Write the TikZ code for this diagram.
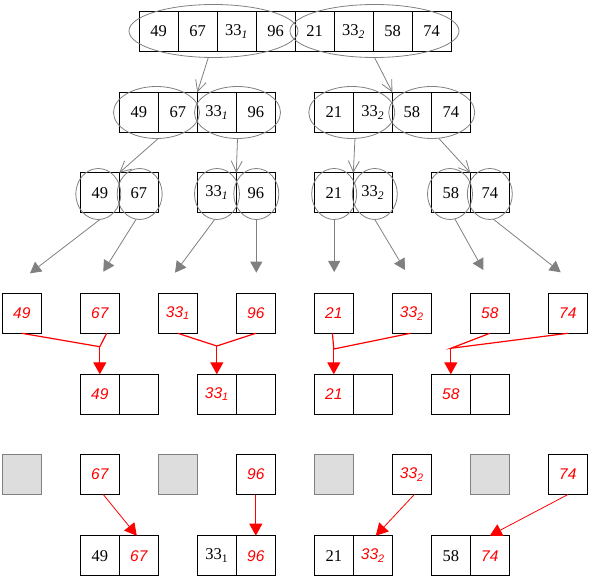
\documentclass[tikz,border=0pt]{standalone}
\usepackage{fontspec}
\setmainfont{Liberation Serif}
\newfontfamily\redsans{Liberation Sans}
\usetikzlibrary{arrows.meta,shapes.geometric,calc}
\definecolor{lgray}{HTML}{DDDDDD}
\definecolor{mgray}{HTML}{808080}
\newcommand\subit[1]{\textsubscript{\itshape #1}}
\begin{document}
\begin{tikzpicture}[x=1pt,y=-1pt,
 cell/.style={draw=black,line width=0.8pt,minimum width=39pt,minimum height=40pt,inner sep=0pt,outer sep=0pt,font=\fontsize{16.5}{18}\selectfont},
 rcell/.style={cell,text=red,font=\redsans\itshape\fontsize{15.5}{17}\selectfont},
 gcell/.style={cell,draw=mgray,fill=lgray},
 ell/.style={draw=mgray,line width=0.8pt,ellipse,inner sep=0pt,outer sep=0pt},
 openarr/.style={draw=mgray,line width=0.8pt,-{Straight Barb[length=11pt,width=11pt]}},
 grayarr/.style={draw=mgray,line width=0.8pt,-{Triangle[length=11pt,width=12pt]}},
 redline/.style={draw=red,line width=1.2pt},
 redarr/.style={draw=red,line width=1.2pt,-{Triangle[length=12pt,width=13pt]}},
 redthin/.style={draw=red,line width=0.8pt,-{Triangle[length=12pt,width=13pt]}},
]
\useasboundingbox (0,0) rectangle (589,577);

% ---- row 1
\node[cell] (a1) at (158.5,31.3) {49};
\node[cell] (a2) at (197.5,31.3) {67};
\node[cell] (a3) at (236.5,31.3) {33\subit{1}};
\node[cell] (a4) at (275.5,31.3) {96};
\node[cell] (a5) at (314.5,31.3) {21};
\node[cell] (a6) at (353.5,31.3) {33\subit{2}};
\node[cell] (a7) at (392.5,31.3) {58};
\node[cell] (a8) at (431.5,31.3) {74};
\node[ell,minimum width=169pt,minimum height=53pt] (eL) at (213.5,31) {};
\node[ell,minimum width=169pt,minimum height=53pt] (eR) at (374.5,31) {};

% ---- row 2
\node[cell] (b1) at (138.8,112.3) {49};
\node[cell] (b2) at (177.8,112.3) {67};
\node[cell] (b3) at (216.8,112.3) {33\subit{1}};
\node[cell] (b4) at (255.8,112.3) {96};
\node[cell] (b5) at (333.8,112.3) {21};
\node[cell] (b6) at (372.8,112.3) {33\subit{2}};
\node[cell] (b7) at (411.8,112.3) {58};
\node[cell] (b8) at (450.8,112.3) {74};
\node[ell,minimum width=86pt,minimum height=52pt] (f1) at (156.5,112.5) {};
\node[ell,minimum width=86pt,minimum height=52pt] (f2) at (237.5,112.5) {};
\node[ell,minimum width=86pt,minimum height=52pt] (f3) at (351.8,112.5) {};
\node[ell,minimum width=86pt,minimum height=52pt] (f4) at (431.7,112.5) {};

% ---- row 3
\node[cell] (c1) at (99.8,192.8) {49};
\node[cell] (c2) at (138.8,192.8) {67};
\node[cell] (c3) at (216.8,192.8) {33\subit{1}};
\node[cell] (c4) at (255.8,192.8) {96};
\node[cell] (c5) at (333.8,192.8) {21};
\node[cell] (c6) at (372.8,192.8) {33\subit{2}};
\node[cell] (c7) at (450.8,192.8) {58};
\node[cell] (c8) at (489.8,192.8) {74};
\node[ell,minimum width=45pt,minimum height=51pt] (h1) at (98.3,194) {};
\node[ell,minimum width=45pt,minimum height=51pt] (h2) at (139.7,194) {};
\node[ell,minimum width=45pt,minimum height=51pt] (h3) at (217,194) {};
\node[ell,minimum width=45pt,minimum height=51pt] (h4) at (256.3,194) {};
\node[ell,minimum width=45pt,minimum height=51pt] (h5) at (334.2,194) {};
\node[ell,minimum width=45pt,minimum height=51pt] (h6) at (374.8,194) {};
\node[ell,minimum width=45pt,minimum height=51pt] (h7) at (450,194) {};
\node[ell,minimum width=45pt,minimum height=51pt] (h8) at (489.8,194) {};

% gray connectors
\draw[openarr] (eL.259) -- (b2.north east);
\draw[openarr] (eR.south) -- (b6.north east);
\draw[openarr] (f1.274) -- (c1.north east);
\draw[openarr] (f2.south) -- (c3.north east);
\draw[openarr] (f3.277) -- (c5.north east);
\draw[openarr] (f4.285) -- (c7.north east);

\coordinate (t1) at (30,273.3);
\coordinate (t2) at (103.3,271.7);
\coordinate (t3) at (175,272.7);
\coordinate (t4) at (256.3,272.7);
\coordinate (t5) at (334.2,272);
\coordinate (t6) at (405,270);
\coordinate (t7) at (483.3,270);
\coordinate (t8) at (560.7,272.3);
\draw[grayarr] (h1.274) -- (t1);
\draw[grayarr] (h2.262) -- (t2);
\draw[grayarr] (h3.265) -- (t3);
\draw[grayarr] (h4.south) -- (t4);
\draw[grayarr] (h5.south) -- (t5);
\draw[grayarr] (h6.south) -- (t6);
\draw[grayarr] (h7.281) -- (t7);
\draw[grayarr] (h8.278) -- (t8);

% ---- red row
\node[rcell] (r1) at (21.8,313.3) {49};
\node[rcell] (r2) at (99.8,313.3) {67};
\node[rcell] (r3) at (177.8,313.3) {33\textsubscript{1}};
\node[rcell] (r4) at (255.8,313.3) {96};
\node[rcell] (r5) at (333.8,313.3) {21};
\node[rcell] (r6) at (411.8,313.3) {33\textsubscript{2}};
\node[rcell] (r7) at (489.8,313.3) {58};
\node[rcell] (r8) at (567.8,313.3) {74};

% ---- merged row 1
\node[rcell] (m1a) at (99.8,394.3) {49};
\node[cell]  (m1b) at (138.8,394.3) {};
\node[rcell] (m2a) at (216.8,394.3) {33\textsubscript{1}};
\node[cell]  (m2b) at (255.8,394.3) {};
\node[rcell] (m3a) at (333.8,394.3) {21};
\node[cell]  (m3b) at (372.8,394.3) {};
\node[rcell] (m4a) at (450.8,394.3) {58};
\node[cell]  (m4b) at (489.8,394.3) {};

\coordinate (j1) at (99.8,346.7);
\coordinate (j2) at (216.8,346);
\coordinate (j3) at (333.8,349);
\coordinate (j4) at (450.8,348.3);
\draw[redline] (r1.south) -- (j1) -- (r2.289);
\draw[redline] (r3.south) -- (j2) -- (r4.south);
\draw[redline] (r5.266) -- (j3) -- (r6.266);
\draw[redline] (r7.south) -- (j4) -- (r8.south);
\draw[redarr] (j1) -- (m1a.north);
\draw[redarr] (j2) -- (m2a.north);
\draw[redarr] (j3) -- (m3a.north);
\draw[redarr] (j4) -- (m4a.north);

% ---- gray row
\node[gcell] (g1) at (21.8,474.6) {};
\node[rcell] (g2) at (99.8,474.6) {67};
\node[gcell] (g3) at (177.8,474.6) {};
\node[rcell] (g4) at (255.8,474.6) {96};
\node[gcell] (g5) at (333.8,474.6) {};
\node[rcell] (g6) at (411.8,474.6) {33\textsubscript{2}};
\node[gcell] (g7) at (489.8,474.6) {};
\node[rcell] (g8) at (567.8,474.6) {74};

% ---- bottom merged row
\node[cell]  (n1a) at (99.8,555.7) {49};
\node[rcell] (n1b) at (138.8,555.7) {67};
\node[cell]  (n2a) at (216.8,555.7) {33\textsubscript{1}};
\node[rcell] (n2b) at (255.8,555.7) {96};
\node[cell]  (n3a) at (333.8,555.7) {21};
\node[rcell] (n3b) at (372.8,555.7) {33\textsubscript{2}};
\node[cell]  (n4a) at (450.8,555.7) {58};
\node[rcell] (n4b) at (489.8,555.7) {74};

\draw[redthin] (g2.280) -- ($(n1b.north)+(-2,0)$);
\draw[redthin] (g4.south) -- (n2b.north);
\draw[redthin] (g6.277) -- ($(n3b.north)+(3,0)$);
\draw[redthin] (g8.south) -- (n4b.north);
\end{tikzpicture}
\end{document}
